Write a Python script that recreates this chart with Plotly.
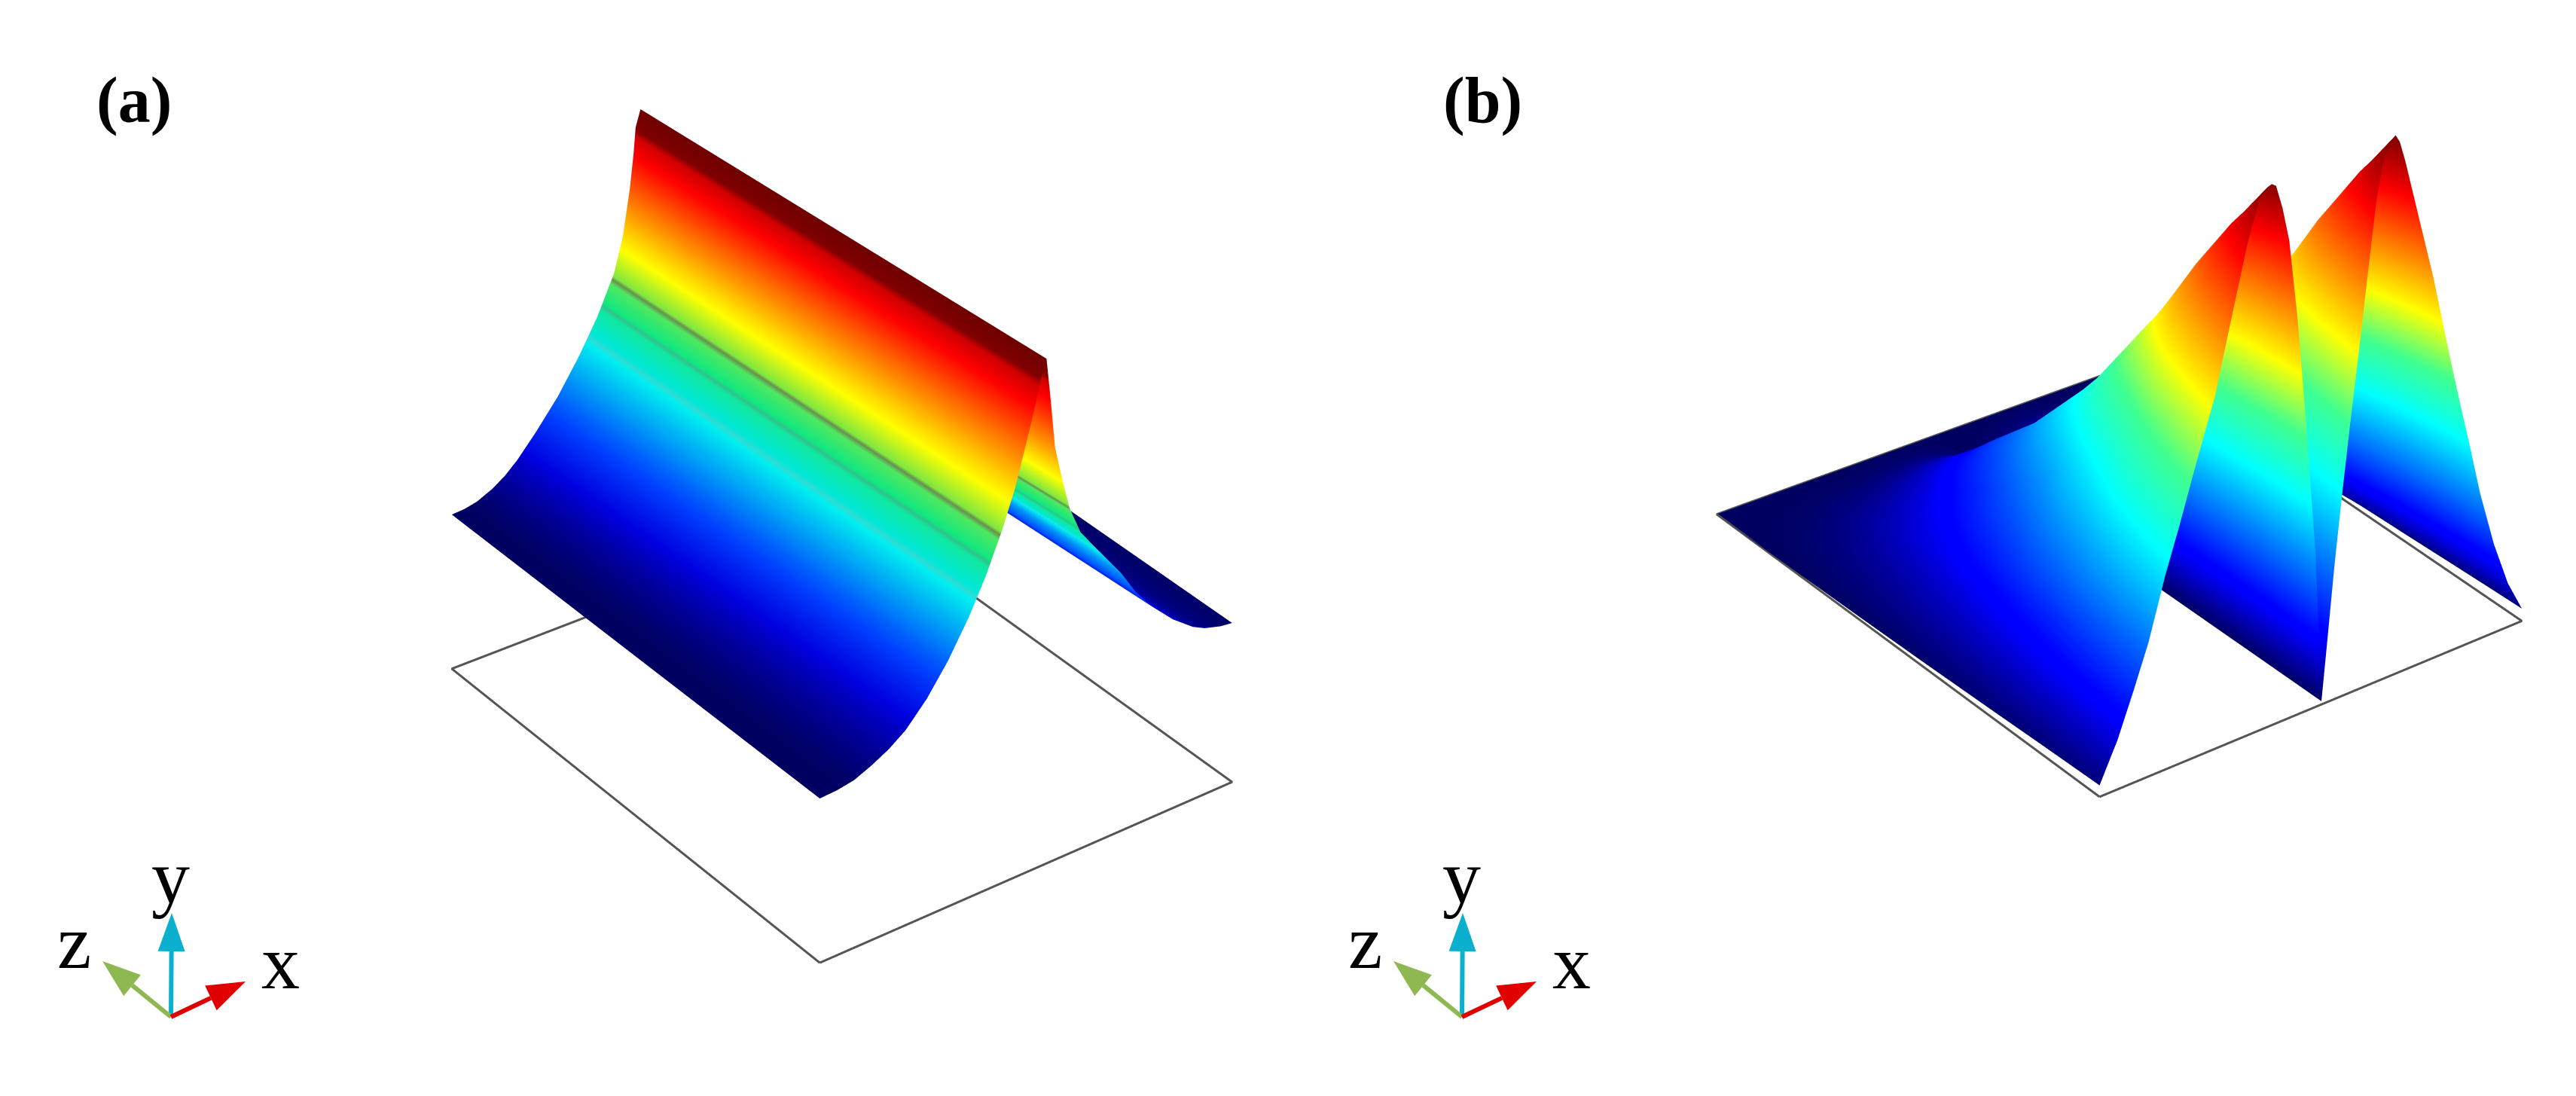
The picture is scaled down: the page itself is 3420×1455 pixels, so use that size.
import numpy as np
import plotly.graph_objects as go

W, H = 3420, 1455
S = W / 1568.0
PAGE_MARGIN = 8  # browser default body margin

# ---------- data (heights in reference-picture units) ----------
ridge_x_near = [0, .04, .08, .12, .16, .2, .25, .3, .35, .39, .43, .46, .49, .51, .525, .537, .545, .558, .575, .593,
                .62, .65, .678, .72, .757, .8, .85, .9, .93, .97, 1.0]
ridge_x_far = [0, .03, .06, .095, .125, .155, .2, .252, .304, .347, .388, .41, .427, .436, .441, .453, .46, .475,
               .49, .51, .54, .575, .61, .66, .70, .75, .81, .87, .91, .96, 1.0]
ridge_h_near = [100, 100.6, 102.5, 107, 112.5, 120, 134, 152, 174, 195, 220, 242, 270, 290, 306, 316, 295, 258, 237,
                217, 199, 188, 178, 163, 147, 133, 120, 110, 106, 103, 102]
ridge_h_far = [100, 100.6, 102.5, 107, 112.5, 120, 134, 152, 174, 195, 220, 243, 273, 295, 312, 323, 300, 258, 237,
               217, 199, 188, 178, 163, 147, 133, 120, 110, 106, 103, 102]
ridge_z = [0, 1]

peaks_x = [0, .04, .076, .11, .148, .18, .21, .24, .263, .285, .311, .338, .364, .384, .394, .404, .419, .435, .454,
           .47, .484, .497, .504, .511, .524, .542, .559, .579, .6, .621, .642, .659, .674, .689, .699, .712, .746,
           .781, .809, .838, .868, .896, .93, .965, 1.0]
peaks_h = [7, 30, 56, 82, 119, 146, 173, 199, 219, 245, 275, 306, 329, 336, 337, 335, 320, 298, 249,
           196, 145, 96, 49, 2, 36, 84, 124, 168, 212, 258, 303, 327, 337, 341, 336, 323, 283,
           242, 204, 166, 129, 93, 57, 28, 8]
decay_z = [0, .02, .04, .06, .09, .12, .15, .18, .21, .24, .28, .32, .37, .42, .47, .53, .6, .65, .7, .76, .82, .88,
           .94, 1]
decay_f = [1, .975, .95, .925, .89, .85, .81, .77, .725, .68, .625, .575, .51, .445, .39, .33, .26, .22, .18, .13,
           .085, .045, .015, 0]

frame_x = [0, 1, 1, 0, 0]
frame_z = [0, 0, 1, 1, 0]

JET = [[0, "#000060"], [.11, "#0000ff"], [.125, "#0000ff"], [.375, "#00ffff"], [.5, "#40ff90"],
       [.625, "#ffff00"], [.875, "#ff0000"], [1, "#7f0000"]]
JET_A = [[0, "#000060"], [.11, "#0000e0"], [.2, "#0040ff"], [.375, "#00f0f0"], [.39, "#30dcd4"],
         [.40, "#00e8d8"], [.46, "#10e8a0"], [.47, "#30c48c"], [.48, "#10e880"], [.53, "#50e860"],
         [.54, "#689050"], [.55, "#80e840"], [.625, "#ffff00"], [.875, "#ff0000"], [.93, "#d00000"],
         [.95, "#800000"], [1, "#700000"]]

LIGHT = dict(ambient=1, diffuse=0, specular=0, roughness=1, fresnel=0)

# ---------- projection of each panel (reference-picture units) ----------
PANEL_A = dict(O=(499, 586), A=(264.4, -115.9), B=(-238.7, -190.7), g=.0535, h=.0656)
PANEL_B = dict(O=(1278, 485), A=(272.3, -113.4), B=(-244.6, -180.5), g=.0594, h=.0496)


def warp(p, X, Y, Z):
    w = 1 + p["g"] * X + p["h"] * Z
    return X / w, Y / w, Z / w


def scene_for(p, dom):
    Ax, Ay = p["A"]
    Bx, By = p["B"]
    p2 = -(Ax * Ay) / (Bx * By)
    k2 = Ax**2 + p2 * Bx**2
    p3 = k2 - Ay**2 - p2 * By**2
    s1, s2, s3 = 1.0, 1 / np.sqrt(p2), 1 / np.sqrt(p3)
    k = np.sqrt(k2)
    r = np.array([Ax / (k * s1), Bx / (k * s2), 0.0])
    u = np.array([-Ay / (k * s1), -By / (k * s2), 1 / (k * s3)])
    d = np.cross(r, u)
    D = 2.0
    Hd = H / S
    C = k * 2 * D * 0.5 / Hd
    dc = (((dom[0] + dom[1]) / 2 * W + PAGE_MARGIN) / S, (H / 2 + PAGE_MARGIN) / S)
    cz = .5
    cx = (dc[0] - p["O"][0] - cz * Bx) / Ax
    cy = p["O"][1] + cx * Ay + cz * By - dc[1]
    hx, hz, hy = 2.0, 2.0, 500.0
    axis = dict(visible=False, showgrid=False, zeroline=False, showbackground=False, showspikes=False)
    return dict(
        domain=dict(x=list(dom), y=[0, 1]),
        bgcolor="white",
        aspectmode="manual",
        aspectratio=dict(x=C * s1 * 2 * hx, y=C * s2 * 2 * hz, z=C * s3 * 2 * hy),
        xaxis=dict(axis, range=[cx - hx, cx + hx]),
        yaxis=dict(axis, range=[cz - hz, cz + hz]),
        zaxis=dict(axis, range=[cy - hy, cy + hy]),
        camera=dict(eye=dict(x=D * d[0], y=D * d[1], z=D * d[2]), up=dict(x=0, y=0, z=1),
                    center=dict(x=0, y=0, z=0), projection=dict(type="orthographic")),
    )


fig = go.Figure()


def add_panel(p, scene, X, Z, heights, cmin, cmax, scale, colour=None):
    Xw, Yw, Zw = warp(p, X, heights, Z)
    fig.add_trace(go.Surface(x=Xw, y=Zw, z=Yw, surfacecolor=heights if colour is None else colour,
                             cmin=cmin, cmax=cmax,
                             colorscale=scale, showscale=False, lighting=LIGHT, hoverinfo="skip",
                             scene=scene))
    fx, fy, fz = warp(p, np.array(frame_x, float), np.zeros(5), np.array(frame_z, float))
    fig.add_trace(go.Scatter3d(x=fx, y=fz, z=fy, mode="lines", line=dict(color="#555555", width=6),
                               showlegend=False, hoverinfo="skip", scene=scene))


ridge_X = np.array([ridge_x_near, ridge_x_far], float)
ridge_Z = np.outer(ridge_z, np.ones(len(ridge_h_near)))
add_panel(PANEL_A, "scene", ridge_X, ridge_Z, np.array([ridge_h_near, ridge_h_far], float), 100, 316, JET_A,
          colour=np.array([ridge_h_near, ridge_h_near], float))

peaks_X, peaks_Z = np.meshgrid(np.array(peaks_x, float), np.array(decay_z, float))
add_panel(PANEL_B, "scene2", peaks_X, peaks_Z, np.outer(decay_f, peaks_h), 0, 339, JET)


def px(x):
    return (x - PAGE_MARGIN) / W


def py(y):
    return 1 - (y - PAGE_MARGIN) / H


def arrow(tail, tip, color):
    tail, tip = np.array(tail, float), np.array(tip, float)
    v = tip - tail
    L = np.hypot(*v)
    e = v / L
    n = np.array([-e[1], e[0]])
    base = tip - e * 51
    a, b = base + n * 18, base - n * 18
    path = "M{} {} L{} {} L{} {} Z".format(px(tip[0]), py(tip[1]), px(a[0]), py(a[1]), px(b[0]), py(b[1]))
    return [
        dict(type="line", xref="paper", yref="paper", x0=px(tail[0]), y0=py(tail[1]), x1=px(base[0]), y1=py(base[1]),
             line=dict(color=color, width=6)),
        dict(type="path", xref="paper", yref="paper", path=path, fillcolor=color, line=dict(width=0)),
    ]


shapes, annotations = [], []
for dx in (0, 1714):
    shapes += arrow((227 + dx, 1350), (228 + dx, 1212), "#0BB0CE")
    shapes += arrow((227 + dx, 1350), (136 + dx, 1276), "#8DB852")
    shapes += arrow((227 + dx, 1350), (326 + dx, 1303), "#E00000")
    for t, x, y in (("y", 226, 1163), ("z", 98, 1250), ("x", 372, 1277)):
        annotations.append(dict(text=t, x=px(x + dx), y=py(y), xref="paper", yref="paper", showarrow=False,
                                xanchor="center", yanchor="middle",
                                font=dict(family="Liberation Serif", size=102, color="black")))
for t, x in (("(a)", 178), ("(b)", 1968)):
    annotations.append(dict(text="<b>%s</b>" % t, x=px(x), y=py(133), xref="paper", yref="paper", showarrow=False,
                            xanchor="center", yanchor="middle",
                            font=dict(family="Liberation Serif", size=86, color="black")))

fig.update_layout(
    width=W, height=H, margin=dict(l=0, r=0, t=0, b=0), paper_bgcolor="white", showlegend=False,
    scene=scene_for(PANEL_A, (0, .5)), scene2=scene_for(PANEL_B, (.5, 1)),
    shapes=shapes, annotations=annotations,
)
fig.write_html("out.html")
